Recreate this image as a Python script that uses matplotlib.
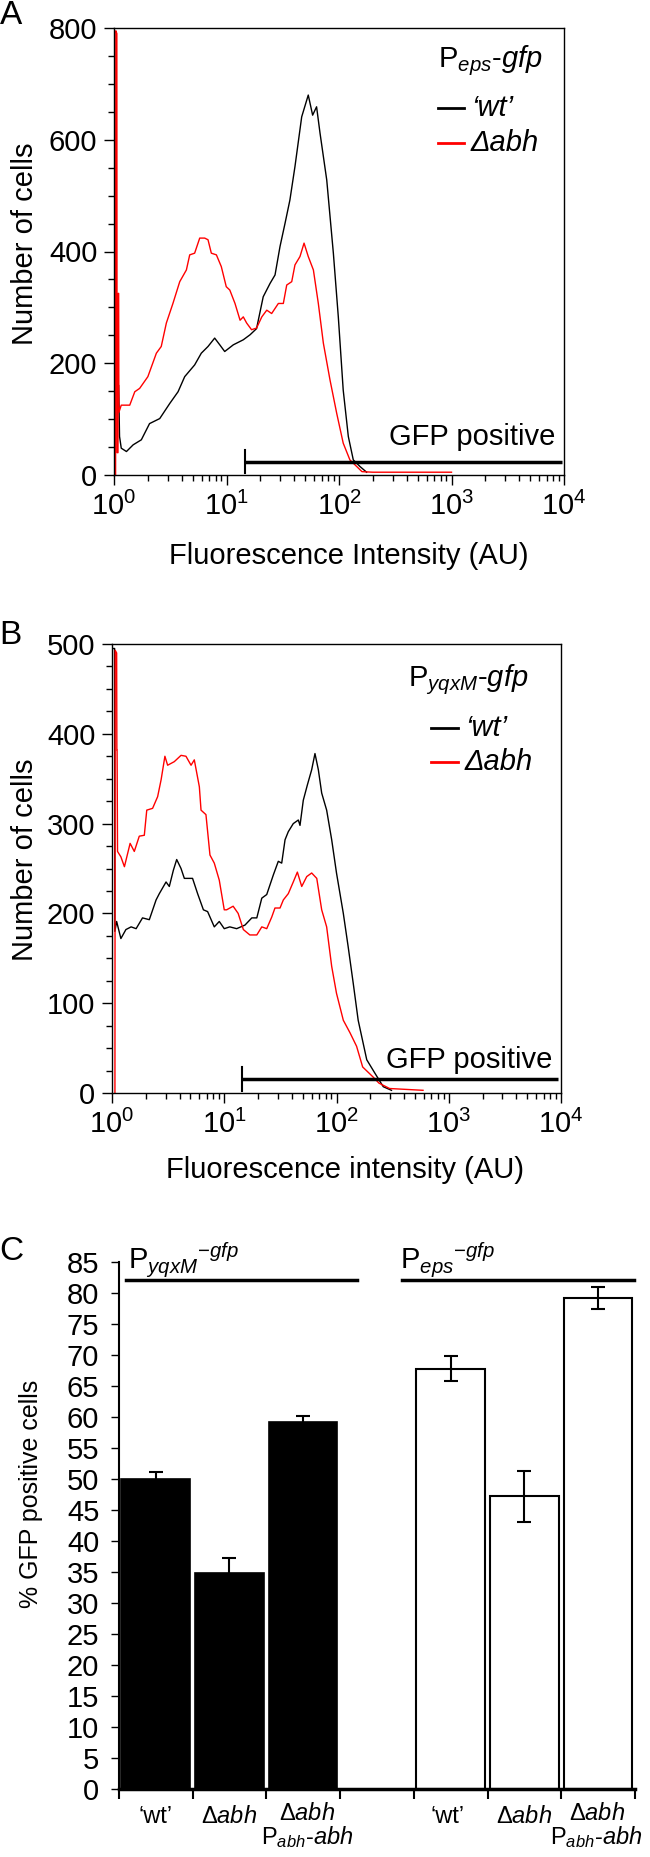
import numpy as np
import matplotlib
matplotlib.use("Agg")
import matplotlib.pyplot as plt
from matplotlib.ticker import MultipleLocator, LogLocator, NullFormatter

plt.rcParams['font.family'] = ['Liberation Sans', 'DejaVu Sans']
plt.rcParams['mathtext.fontset'] = 'custom'
plt.rcParams['mathtext.rm'] = 'Liberation Sans'
plt.rcParams['mathtext.it'] = 'Liberation Sans:italic'
plt.rcParams['mathtext.bf'] = 'Liberation Sans:bold'

# ---- panel A: P_eps-gfp histograms (fluorescence AU, number of cells)
wtA_x = [1.10, 1.12, 1.16, 1.29, 1.48, 1.75, 2.07, 2.55, 3.13, 3.71, 4.25, 5.21, 5.97,
         6.85, 7.85, 8.71, 9.64, 11.5, 14.1, 16.2, 18.5, 21.2, 24.4, 27.0, 29.9, 33.1,
         36.6, 40.6, 46.6, 53.3, 58.3, 63.2, 67.8, 77.8, 89.1, 98.6, 109, 121, 134, 154, 176]
wtA_y = [160, 69, 48, 42, 54, 63, 92, 101, 128, 149, 176, 197, 218,
         230, 245, 233, 221, 233, 242, 251, 262, 319, 343, 358, 409, 450,
         492, 552, 641, 680, 644, 659, 612, 528, 397, 283, 152, 69, 27, 15, 5]
abhA_x = [1.033, 1.038, 1.060, 1.065, 1.085, 1.090, 1.100, 1.105, 1.16, 1.38, 1.53, 1.69,
          2.00, 2.38, 2.63, 2.92, 3.34, 3.84, 4.40, 4.71, 5.21, 5.78, 6.40, 6.85, 7.33,
          8.13, 8.99, 9.95, 10.7, 11.9, 13.2, 14.1, 15.1, 16.7, 18.5, 20.6, 22.8, 25.2,
          28.9, 32.0, 34.3, 38.0, 40.6, 45.0, 48.9, 53.3, 59.2, 65.5, 72.6, 83.2, 95.5,
          109, 125, 144, 160, 200, 1000]
abhA_y = [0, 795, 790, 40, 40, 325, 325, 112, 125, 125, 149, 155,
          176, 218, 230, 272, 307, 346, 367, 394, 397, 424, 424, 421, 397,
          394, 373, 337, 331, 307, 277, 283, 272, 260, 263, 283, 295, 289,
          307, 307, 340, 346, 376, 391, 415, 391, 367, 307, 236, 170, 110,
          57, 27, 15, 6, 5, 5]
gateA_x = [14.6, 9550]
gateA_y = 24

# ---- panel B: P_yqxM-gfp histograms
wtB_x = [1.003, 1.008, 1.055, 1.060, 1.10, 1.20, 1.33, 1.48, 1.64, 1.87, 2.15, 2.47, 2.64,
         3.03, 3.24, 3.52, 3.77, 4.12, 4.41, 5.22, 5.79, 6.52, 7.11, 8.15, 9.03, 10.0,
         11.2, 12.9, 15.3, 17.6, 19.5, 21.6, 23.9, 27.4, 30.3, 32.5, 34.8, 37.2, 41.2,
         45.7, 47.3, 50.6, 55.0, 60.1, 64.3, 68.9, 73.8, 81.7, 90.6, 100, 115, 127, 141,
         156, 186, 220, 261, 309]
wtB_y = [0, 495, 495, 180, 191, 172, 182, 185, 183, 195, 193, 215, 222,
         235, 230, 248, 260, 250, 239, 239, 222, 204, 202, 185, 191, 183,
         185, 183, 187, 195, 195, 217, 221, 243, 258, 256, 282, 291, 300,
         304, 298, 326, 343, 360, 378, 360, 334, 315, 282, 245, 200, 163, 122,
         81, 37, 22, 7, 3]
abhB_x = [1.062, 1.068, 1.100, 1.105, 1.110, 1.12, 1.20, 1.29, 1.38, 1.45, 1.58, 1.75,
          1.94, 2.04, 2.30, 2.55, 2.74, 2.96, 3.13, 3.59, 4.12, 4.56, 5.06, 5.41, 6.00,
          6.21, 6.87, 7.46, 8.15, 9.03, 10.0, 10.5, 12.0, 13.3, 14.8, 16.9, 19.5, 21.6,
          23.9, 26.5, 28.3, 31.4, 33.6, 37.2, 41.2, 44.8, 49.0, 54.3, 60.1, 66.7, 73.8,
          81.7, 90.6, 100, 115, 132, 151, 171, 211, 239, 297, 590]
abhB_y = [0, 493, 490, 382, 382, 269, 263, 252, 267, 278, 269, 286,
          287, 315, 317, 330, 349, 375, 365, 369, 376, 375, 365, 371, 341,
          315, 310, 265, 256, 237, 204, 204, 208, 200, 182, 176, 176, 185,
          183, 196, 206, 206, 215, 222, 235, 246, 230, 241, 245, 239, 204,
          185, 141, 111, 81, 67, 52, 29, 18, 11, 5, 3]
gateB_x = [14.5, 9460]
gateB_y = 15.6

# ---- panel C: % GFP positive cells
strains = ["\u2018wt\u2019", r"$\Delta\it{abh}$",
           r"$\Delta\it{abh}$" + "\n" + r"P$_{\it{abh}}$-$\it{abh}$"]
yqxM_pct = [50.0, 34.8, 59.2]
yqxM_err = [1.1, 2.5, 1.0]
eps_pct = [67.8, 47.2, 79.2]
eps_err = [2.0, 4.1, 1.7]

W, H = 650, 1857
fig = plt.figure(figsize=(W / 100, H / 100), dpi=100)
FS = 21


def box(l, t, r, b):
    return [l / W, 1 - b / H, (r - l) / W, (b - t) / H]


def hist_axes(ax, ymax, major, minor):
    ax.set_xscale('log')
    ax.set_xlim(1, 1e4)
    ax.set_ylim(0, ymax)
    ax.yaxis.set_major_locator(MultipleLocator(major))
    ax.yaxis.set_minor_locator(MultipleLocator(minor))
    ax.xaxis.set_major_locator(LogLocator(base=10, numticks=10))
    ax.xaxis.set_minor_locator(LogLocator(base=10, subs=np.arange(2, 10), numticks=10))
    ax.xaxis.set_minor_formatter(NullFormatter())
    ax.tick_params(which='major', direction='out', length=7, width=1, labelsize=FS, pad=5)
    ax.tick_params(which='minor', direction='out', length=4, width=1)
    for s in ax.spines.values():
        s.set_linewidth(1)


def legend_block(ax, title, tx, ty, lx0, lx1, txt_x, y_wt, y_abh):
    ax.text(tx, ty, title, transform=ax.transAxes, fontsize=FS, ha='left', va='baseline')
    ax.plot([lx0, lx1], [y_wt, y_wt], transform=ax.transAxes, color='black', lw=2)
    ax.plot([lx0, lx1], [y_abh, y_abh], transform=ax.transAxes, color='red', lw=2)
    ax.text(txt_x, y_wt, "\u2018wt\u2019", transform=ax.transAxes, fontsize=FS,
            style='italic', ha='left', va='center')
    ax.text(txt_x, y_abh, "\u0394abh", transform=ax.transAxes, fontsize=FS,
            style='italic', ha='left', va='center')


def gate(ax, xs, y, tick_h, text_y):
    ax.plot(xs, [y, y], color='black', lw=2.5, solid_capstyle='butt')
    ax.plot([xs[0], xs[0]], [y - tick_h, y + tick_h], color='black', lw=1.5)
    ax.text(0.98, text_y, "GFP positive", transform=ax.transAxes, fontsize=FS,
            ha='right', va='center')


# Panel A
axA = fig.add_axes(box(114, 28, 564, 475))
hist_axes(axA, 800, 200, 50)
axA.plot(wtA_x, wtA_y, color='black', lw=1.0)
axA.plot(abhA_x, abhA_y, color='red', lw=1.0)
gate(axA, gateA_x, gateA_y, 20, 0.086)
legend_block(axA, r"P$_{\it{eps}}$-$\it{gfp}$", 0.719, 0.913, 0.719, 0.778, 0.793, 0.821, 0.743)

# Panel B
axB = fig.add_axes(box(112, 644, 561, 1093))
hist_axes(axB, 500, 100, 25)
axB.plot(wtB_x, wtB_y, color='black', lw=1.0)
axB.plot(abhB_x, abhB_y, color='red', lw=1.0)
gate(axB, gateB_x, gateB_y, 13, 0.0735)
legend_block(axB, r"P$_{\it{yqxM}}$-$\it{gfp}$", 0.659, 0.905, 0.710, 0.771, 0.786, 0.813, 0.737)

# Panel C
axC = fig.add_axes(box(118.75, 1262, 635, 1789))
pos_y = np.arange(3)
pos_e = np.arange(4, 7)
axC.bar(pos_y, yqxM_pct, width=0.93, color='black', edgecolor='black', lw=1.2, zorder=2)
axC.errorbar(pos_y, yqxM_pct, yerr=yqxM_err, fmt='none', ecolor='black',
             elinewidth=1.5, capsize=5, capthick=1.5, zorder=3)
axC.bar(pos_e, eps_pct, width=0.93, color='white', edgecolor='black', lw=1.5, zorder=2)
axC.errorbar(pos_e, eps_pct, yerr=eps_err, fmt='none', ecolor='black',
             elinewidth=1.5, capsize=5, capthick=1.5, zorder=3)
axC.set_xlim(-0.5, 6.5)
axC.set_ylim(0, 85)
axC.yaxis.set_major_locator(MultipleLocator(5))
axC.set_xticks(np.arange(-0.5, 7, 1))
axC.set_xticklabels([])
axC.tick_params(axis='y', direction='out', length=6, width=1, labelsize=FS, pad=8)
axC.tick_params(axis='x', direction='out', length=7, width=1.5)
for s in ['top', 'right']:
    axC.spines[s].set_visible(False)
axC.spines['left'].set_linewidth(1.5)
axC.spines['bottom'].set_linewidth(2.5)
axC.spines['bottom'].set_zorder(5)

xt = axC.get_xaxis_transform()
label_x = [0, 1, 2.06, 3.96, 5, 5.98]
for i, lx in enumerate(label_x):
    lab = strains[i % 3]
    if i % 3 == 2:
        axC.text(lx, -0.072, lab, transform=xt, fontsize=17, ha='center', va='center',
                 linespacing=0.95)
    else:
        axC.text(lx, -0.054, lab, transform=xt, fontsize=17, ha='center', va='center')

axC.plot([-0.404, 2.735], [82.1, 82.1], color='black', lw=2.5, clip_on=False)
axC.plot([3.34, 6.48], [82.1, 82.1], color='black', lw=2.5, clip_on=False)
axC.text(-0.37, 83.9, r"P$_{\it{yqxM}}$$^{\it{-gfp}}$", fontsize=FS, ha='left', va='baseline')
axC.text(3.31, 83.9, r"P$_{\it{eps}}$$^{\it{-gfp}}$", fontsize=FS, ha='left', va='baseline')

# axis labels and panel letters
fig.text(25 / W, 1 - 244 / H, "Number of cells", rotation=90, fontsize=FS, ha='center', va='center')
fig.text(349 / W, 1 - 556 / H, "Fluorescence Intensity (AU)", fontsize=FS, ha='center', va='center')
fig.text(25 / W, 1 - 860 / H, "Number of cells", rotation=90, fontsize=FS, ha='center', va='center')
fig.text(345 / W, 1 - 1170 / H, "Fluorescence intensity (AU)", fontsize=FS, ha='center', va='center')
fig.text(31.5 / W, 1 - 1494 / H, "% GFP positive cells", rotation=90, fontsize=18,
         ha='center', va='center')
fig.text(11 / W, 1 - 16 / H, "A", fontsize=24, ha='center', va='center')
fig.text(10 / W, 1 - 635 / H, "B", fontsize=24, ha='center', va='center')
fig.text(11 / W, 1 - 1252 / H, "C", fontsize=24, ha='center', va='center')

fig.savefig("out.png", dpi=100)
